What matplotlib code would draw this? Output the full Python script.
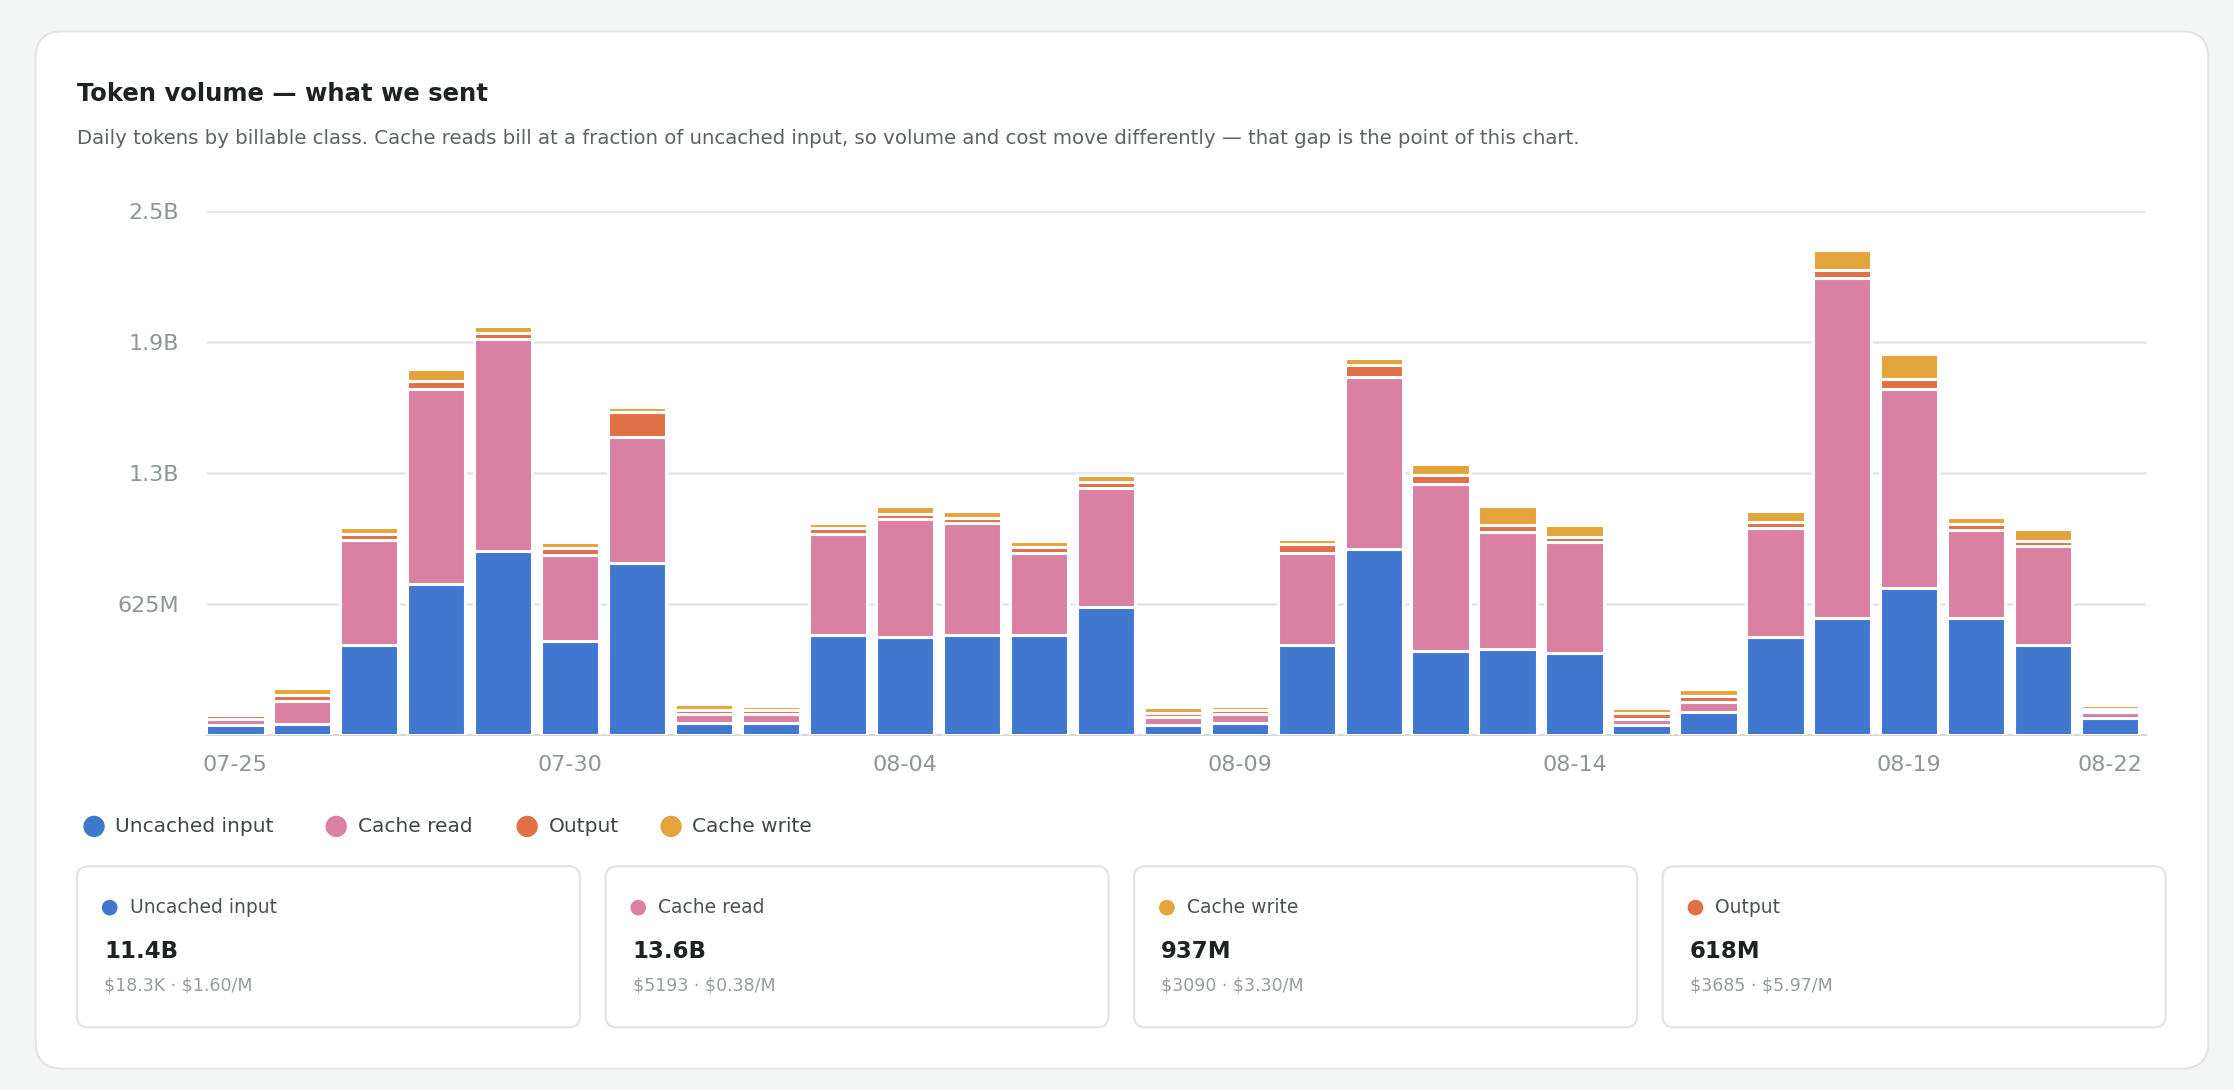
import matplotlib
matplotlib.use("Agg")
import matplotlib.pyplot as plt
from matplotlib.patches import FancyBboxPatch
from matplotlib.ticker import FixedLocator, FixedFormatter
import numpy as np

days = ["07-25","07-26","07-27","07-28","07-29","07-30","07-31","08-01","08-02","08-03",
        "08-04","08-05","08-06","08-07","08-08","08-09","08-10","08-11","08-12","08-13",
        "08-14","08-15","08-16","08-17","08-18","08-19","08-20","08-21","08-22"]
uncached = [.048,.054,.43,.72,.88,.45,.82,.06,.06,.48,.47,.48,.48,.61,.048,.06,.43,.89,.40,.41,.39,.048,.11,.47,.56,.70,.56,.43,.08]
cache_read = [.027,.11,.50,.93,1.01,.41,.60,.04,.04,.48,.56,.53,.39,.57,.04,.04,.44,.82,.80,.56,.53,.03,.048,.52,1.62,.95,.42,.47,.03]
output = [.02,.027,.027,.04,.027,.034,.12,.02,.02,.027,.027,.027,.027,.027,.02,.02,.04,.054,.04,.034,.027,.027,.027,.027,.04,.048,.027,.027,.014]
cache_write = [.014,.034,.034,.054,.034,.027,.027,.03,.02,.027,.034,.034,.027,.034,.027,.02,.027,.034,.054,.088,.054,.027,.034,.054,.095,.12,.034,.054,.02]

series_names = ["Uncached input", "Cache read", "Output", "Cache write"]
colors = {"Uncached input": "#4277d0", "Cache read": "#d980a3", "Output": "#e07046", "Cache write": "#e3a43b"}
yticks = [0.625, 1.25, 1.875, 2.5]
ytick_labels = ["625M", "1.3B", "1.9B", "2.5B"]
xtick_idx = [0, 5, 10, 15, 20, 25, 28]

cards = [("Uncached input", "11.4B", "\\$18.3K · \\$1.60/M"),
         ("Cache read", "13.6B", "\\$5193 · \\$0.38/M"),
         ("Cache write", "937M", "\\$3090 · \\$3.30/M"),
         ("Output", "618M", "\\$3685 · \\$5.97/M")]

W, H = 1568, 765
fig = plt.figure(figsize=(22.34, 10.9), dpi=100)
fig.patch.set_facecolor("#f4f6f5")

def fx(x): return x / W
def fy(y): return 1 - y / H

card = FancyBboxPatch((fx(25), fy(750)), fx(1550) - fx(25), fy(22) - fy(750),
                      boxstyle="round,pad=0,rounding_size=0.012", transform=fig.transFigure,
                      facecolor="white", edgecolor="#e2e5e3", linewidth=1.5, mutation_aspect=2.05,
                      zorder=-10)
fig.patches.append(card)

fig.text(fx(54), fy(66), "Token volume — what we sent", fontsize=17.5, fontweight="bold",
         color="#1d2321", va="center")
fig.text(fx(54), fy(97), "Daily tokens by billable class. Cache reads bill at a fraction of uncached input, so volume and cost move differently — that gap is the point of this chart.",
         fontsize=14.2, color="#5b6461", va="center")

ax = fig.add_axes([fx(145), fy(516), fx(1506) - fx(145), fy(148) - fy(516)])
ax.set_zorder(5)
ax.patch.set_visible(False)
x = np.arange(len(days))
bottom = np.zeros(len(days))
data = {"Uncached input": uncached, "Cache read": cache_read, "Output": output, "Cache write": cache_write}
for name in series_names:
    vals = np.array(data[name])
    ax.bar(x, vals, bottom=bottom, width=0.87, color=colors[name], edgecolor="white",
           linewidth=2.2, zorder=3)
    bottom += vals

ax.set_xlim(-0.43, 28.53)
ax.set_ylim(0, 2.5)
ax.yaxis.set_major_locator(FixedLocator(yticks))
ax.yaxis.set_major_formatter(FixedFormatter(ytick_labels))
ax.set_xticks(xtick_idx)
ax.set_xticklabels([days[i] for i in xtick_idx])
ax.grid(axis="y", color="#e3e6e4", linewidth=1.8, zorder=0)
for s in ["top", "right", "left"]:
    ax.spines[s].set_visible(False)
ax.spines["bottom"].set_color("#d5d9d7")
ax.spines["bottom"].set_linewidth(1.5)
ax.tick_params(axis="both", length=0, labelsize=16, labelcolor="#8c9693")
ax.tick_params(axis="y", pad=20)
ax.tick_params(axis="x", pad=14)

# legend
lx = 66
offs = {"Uncached input": 170, "Cache read": 134, "Output": 101, "Cache write": 0}
for name in series_names:
    fig.patches.append(matplotlib.patches.Ellipse((fx(lx), fy(580)), fx(14), fy(0) - fy(14),
                       transform=fig.transFigure, color=colors[name]))
    fig.text(fx(lx + 15), fy(580), name, fontsize=14.5, color="#3f4744", va="center")
    lx += offs[name]

# summary cards
cx = [54, 425, 796, 1167]
for (name, val, cost), x0 in zip(cards, cx):
    b = FancyBboxPatch((fx(x0), fy(721)), fx(353), fy(608) - fy(721),
                       boxstyle="round,pad=0,rounding_size=0.005", transform=fig.transFigure,
                       facecolor="white", edgecolor="#e0e3e1", linewidth=1.5, mutation_aspect=2.05)
    fig.patches.append(b)
    fig.patches.append(matplotlib.patches.Ellipse((fx(x0 + 23), fy(637)), fx(10), fy(0) - fy(10),
                       transform=fig.transFigure, color=colors[name]))
    fig.text(fx(x0 + 37), fy(637), name, fontsize=13.5, color="#4a5350", va="center")
    fig.text(fx(x0 + 19), fy(668), val, fontsize=16.5, fontweight="bold", color="#1d2321", va="center")
    fig.text(fx(x0 + 19), fy(692), cost, fontsize=12.5, color="#949d9a", va="center")

fig.savefig("out.png", dpi=100, facecolor=fig.get_facecolor())
